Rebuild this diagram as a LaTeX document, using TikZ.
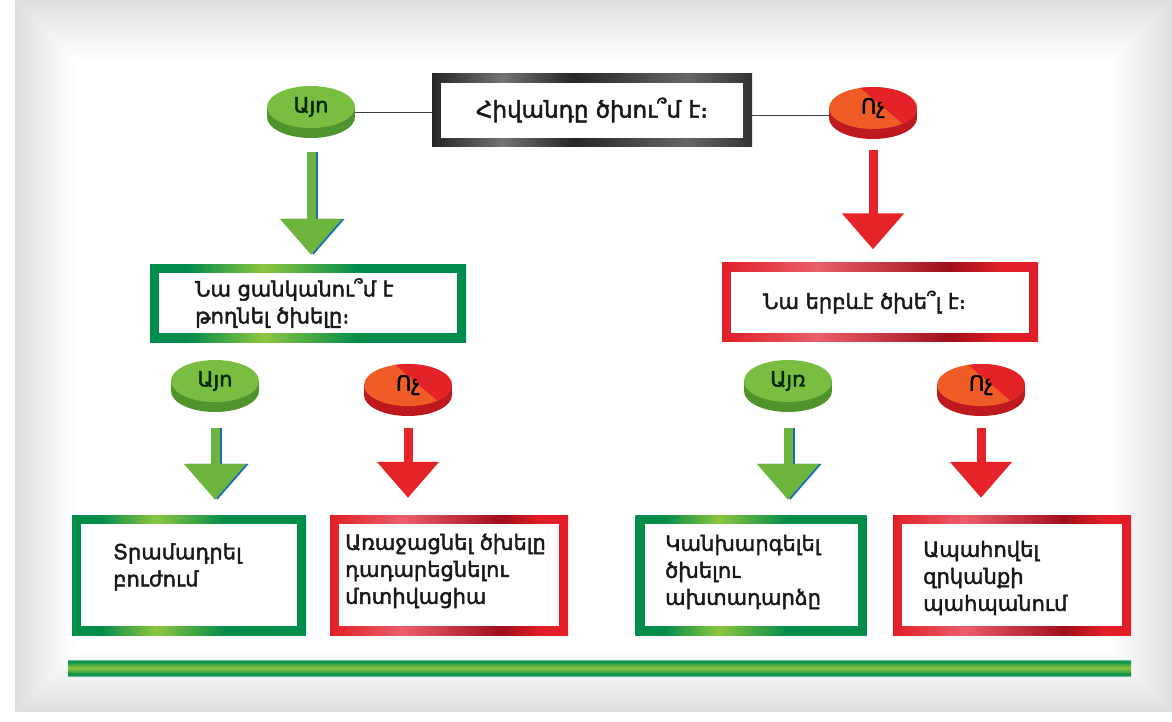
\documentclass[tikz,border=0pt]{standalone}
\usepackage{fontspec}
\setmainfont{DejaVu Sans}
\newfontfamily\armsemi{DejaVu Sans}[FakeBold=2]
\usetikzlibrary{arrows.meta}

\definecolor{gDark}{RGB}{0,140,75}
\definecolor{gLight}{RGB}{141,198,63}
\definecolor{rMain}{RGB}{225,30,40}
\definecolor{rLight}{RGB}{235,95,105}
\definecolor{rDark}{RGB}{160,15,25}
\definecolor{discGreenTop}{RGB}{122,190,65}
\definecolor{discGreenSide}{RGB}{80,148,45}
\definecolor{discRedTop}{RGB}{240,92,40}
\definecolor{discRedWedge}{RGB}{228,35,40}
\definecolor{discRedSide}{RGB}{190,25,30}
\definecolor{arrGreen}{RGB}{108,180,60}
\definecolor{arrBlue}{RGB}{20,110,190}
\definecolor{arrRed}{RGB}{230,35,40}

% tikz maps 25bp..75bp onto the path
\pgfdeclarehorizontalshading{greenframe}{100bp}{color(0bp)=(gDark); color(25bp)=(gDark); color(31bp)=(gDark); color(43bp)=(gLight); color(58bp)=(gDark); color(75bp)=(gDark); color(100bp)=(gDark)}
\pgfdeclarehorizontalshading{redframe}{100bp}{color(0bp)=(rMain); color(25bp)=(rMain); color(40bp)=(rLight); color(61bp)=(rDark); color(69bp)=(rMain); color(75bp)=(rMain); color(100bp)=(rMain)}
\pgfdeclarehorizontalshading{grayframe}{100bp}{color(0bp)=(black!85); color(25bp)=(black!85); color(36bp)=(black!55); color(47bp)=(black!85); color(65bp)=(black!60); color(75bp)=(black!80); color(100bp)=(black!80)}
\pgfdeclareverticalshading{stripe}{100bp}{color(0bp)=(gDark!60!white); color(25bp)=(gDark!60!white); color(29bp)=(gDark); color(50bp)=(gLight); color(71bp)=(gDark); color(75bp)=(gDark!60!white); color(100bp)=(gDark!60!white)}

\newcommand{\yesdisc}[3]{%
  \begin{scope}[shift={(#2)}]
    \fill[discGreenSide] (0,10) ellipse [x radius=44pt, y radius=21pt];
    \fill[discGreenSide] (-44,0) rectangle (44,10);
    \fill[discGreenTop] (0,0) ellipse [x radius=44pt, y radius=21pt];
    \node[disctext, text=black!85!green] (#1) at (0,0) {#3};
  \end{scope}}

\newcommand{\nodisc}[2]{%
  \begin{scope}[shift={(#2)}]
    \fill[discRedSide] (0,10) ellipse [x radius=44pt, y radius=21pt];
    \fill[discRedSide] (-44,0) rectangle (44,10);
    \fill[discRedTop] (0,0) ellipse [x radius=44pt, y radius=21pt];
    \begin{scope}
      \clip (0,0) ellipse [x radius=44pt, y radius=21pt];
      \fill[discRedWedge] (-22,-28) -- (60,-28) -- (60,28) -- (44,28) -- cycle;
    \end{scope}
    \node[disctext, text=black] (#1) at (0,0) {Ոչ};
  \end{scope}}

\begin{document}
\begin{tikzpicture}[x=1pt,y=-1pt,
    framebox/.style={inner sep=0pt, path picture={
        \fill[white] ([shift={(9pt,-9pt)}]path picture bounding box.north west)
            rectangle ([shift={(-9pt,9pt)}]path picture bounding box.south east);}},
    gbox/.style={framebox, shading=greenframe},
    rbox/.style={framebox, shading=redframe},
    qbox/.style={framebox, shading=grayframe},
    disctext/.style={minimum width=88pt, minimum height=42pt, inner sep=0pt,
        font=\armsemi\fontsize{21}{24}\selectfont},
    boxtext/.style={anchor=west, align=left, inner sep=0pt, text=black!90,
        font=\armsemi\fontsize{21}{27}\selectfont},
    link/.style={black!75, line width=1pt},
    garrow/.style={arrGreen, line width=9pt, -{Triangle[width=60pt,length=36pt]}},
    barrow/.style={arrBlue, line width=9pt, -{Triangle[width=60pt,length=36pt]},
        transform canvas={xshift=2.5pt}},
    rarrow/.style={arrRed, line width=9pt, -{Triangle[width=60pt,length=36pt]}}]

    \useasboundingbox (0,0) rectangle (1172,721);
    \fill[white] (0,0) rectangle (1172,721);
    % grey fading frame
    \foreach \i in {0,...,15}{
        \pgfmathsetmacro\g{12*(1-\i/15)}
        \fill[black!\g] (15+4*\i,4*\i) rectangle (1172-4*\i,712-4*\i);
    }

    % question
    \node[qbox, minimum width=320pt, minimum height=73pt,
        font=\armsemi\fontsize{23}{26}\selectfont, text=black!90] (smokes) at (592,110)
        {Հիվանդը ծխու՞մ է։};
    \yesdisc{yes0}{311,107}{Այո}
    \nodisc{no0}{873,108}
    \draw[link] ([yshift=-5pt]yes0.east) -- ([yshift=-5pt]yes0.east -| smokes.west);
    \draw[link] ([yshift=-5pt]smokes.east) -- ([yshift=-5pt]smokes.east -| no0.west);

    % second level
    \node[gbox, minimum width=316pt, minimum height=78pt] (want) at (308,303) {};
    \node[boxtext] (wanttxt) at (195,303) {Նա ցանկանու՞մ է\\թողնել ծխելը։};
    \node[rbox, minimum width=316pt, minimum height=79pt] (ever) at (880,302) {};
    \node[boxtext] (evertxt) at (763,302) {Նա երբևէ ծխե՞լ է։};

    \draw[barrow, shorten <=24pt, shorten >=9pt] (yes0.south) -- (yes0.south |- want.north);
    \draw[garrow, shorten <=24pt, shorten >=9pt] (yes0.south) -- (yes0.south |- want.north);
    \draw[rarrow, shorten <=21pt, shorten >=13pt] (no0.south) -- (no0.south |- ever.north);

    \yesdisc{yes1}{215,381}{Այո}
    \nodisc{no1}{408,385}
    \yesdisc{yes2}{788,381}{Այռ}
    \nodisc{no2}{981,385}

    % answers
    \node[gbox, minimum width=234pt, minimum height=120pt] (treat) at (189,575) {};
    \node[boxtext] (treattxt) at (113,567) {Տրամադրել\\բուժում};
    \node[rbox, minimum width=238pt, minimum height=120pt] (motiv) at (449,575) {};
    \node[boxtext] (motivtxt) at (345,571) {Առաջացնել ծխելը\\դադարեցնելու\\մոտիվացիա};
    \node[gbox, minimum width=231pt, minimum height=120pt] (relapse) at (751,575) {};
    \node[boxtext] (relapsetxt) at (665,572) {Կանխարգելել\\ծխելու\\ախտադարձը};
    \node[rbox, minimum width=238pt, minimum height=120pt] (keep) at (1012,575) {};
    \node[boxtext] (keeptxt) at (923,578) {Ապահովել\\զրկանքի\\պահպանում};

    \draw[barrow, shorten <=26pt, shorten >=15pt] (yes1.south) -- (yes1.south |- treat.north);
    \draw[garrow, shorten <=26pt, shorten >=15pt] (yes1.south) -- (yes1.south |- treat.north);
    \draw[rarrow, shorten <=22pt, shorten >=17pt] (no1.south) -- (no1.south |- motiv.north);
    \draw[barrow, shorten <=26pt, shorten >=15pt] (yes2.south) -- (yes2.south |- relapse.north);
    \draw[garrow, shorten <=26pt, shorten >=15pt] (yes2.south) -- (yes2.south |- relapse.north);
    \draw[rarrow, shorten <=22pt, shorten >=17pt] (no2.south) -- (no2.south |- keep.north);

    % bottom bar
    \shade[shading=stripe] (68,660) rectangle (1131,676);
\end{tikzpicture}
\end{document}
